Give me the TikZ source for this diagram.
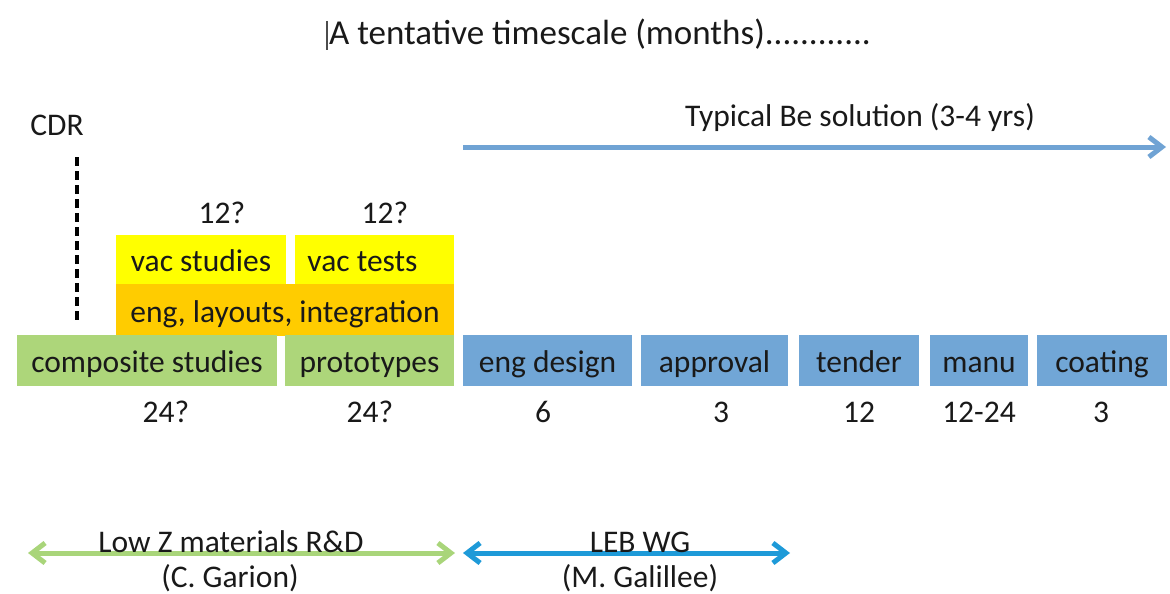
\documentclass[tikz,border=0pt]{standalone}
\usepackage{fontspec}
\setmainfont{Carlito}
\usetikzlibrary{arrows.meta}
\definecolor{boxgreen}{HTML}{ADD67A}
\definecolor{boxyellow}{HTML}{FFFF00}
\definecolor{boxorange}{HTML}{FFCC00}
\definecolor{boxblue}{HTML}{71A6D6}
\definecolor{arrblue}{HTML}{70A3D4}
\definecolor{arrgreen}{HTML}{A9D57A}
\definecolor{arrcyan}{HTML}{1E9AD8}
\tikzset{
  txt/.style={font=\fontsize{31.5}{37}\selectfont, inner sep=0pt, anchor=base, text=black!90},
  ttl/.style={font=\fontsize{35}{40}\selectfont, inner sep=0pt, anchor=base, text=black!90},
  bar/.style={font=\fontsize{31.5}{37}\selectfont, inner sep=0pt, text=black!90,
    text height=24pt, text depth=0pt, anchor=center},
  gbox/.style={bar, fill=boxgreen},
  ybox/.style={bar, fill=boxyellow},
  obox/.style={bar, fill=boxorange},
  bbox/.style={bar, fill=boxblue},
  mybarb/.tip={Straight Barb[length=13pt,width=20pt]},
  arr/.style={line width=5pt},
}
\begin{document}
\begin{tikzpicture}[x=1pt,y=-1pt]
\useasboundingbox (0,0) rectangle (1170,594);
% title and cursor
\node[ttl] (title) at (600,45) {A tentative timescale (months)............};
\coordinate (cur1) at (327,21);
\coordinate (cur2) at (327,50);
\draw[line width=1.2pt, black!70] (cur1) -- (cur2);
% CDR
\node[txt] (cdr) at (57,135) {CDR};
\coordinate (d1) at (77,157);
\coordinate (d2) at (77,324);
\draw[line width=4pt, dash pattern=on 9pt off 5pt] (d1) -- (d2);
% Typical Be solution
\node[txt] (be) at (860,126) {Typical Be solution (3-4 yrs)};
\coordinate (ta) at (463,147);
\coordinate (tb) at (1166,147);
\draw[arr, arrblue, -{mybarb}] (ta) -- (tb);
% 12? labels
\node[txt] (q1) at (222,223) {12?};
\node[txt] (q2) at (385,223) {12?};
% yellow / orange
\node[ybox, minimum width=170pt, minimum height=49pt] (vs) at (201,259.5) {vac studies};
\node[ybox, minimum width=159pt, minimum height=49pt] (vt) at (374.5,259.5) {vac tests\hspace*{24pt}};
\node[obox, minimum width=338pt, minimum height=52pt] (eng) at (285,310) {eng, layouts, integration};
% green
\node[gbox, minimum width=260pt, minimum height=51pt] (cs) at (147,360.5) {composite studies};
\node[gbox, minimum width=169pt, minimum height=51pt] (pt) at (369.5,360.5) {prototypes};
% blue
\node[bbox, minimum width=169pt, minimum height=51pt] (ed) at (547.5,360.5) {eng design};
\node[bbox, minimum width=147pt, minimum height=51pt] (ap) at (714.5,360.5) {approval};
\node[bbox, minimum width=120pt, minimum height=51pt] (te) at (859,360.5) {tender};
\node[bbox, minimum width=98pt, minimum height=51pt] (ma) at (979,360.5) {manu};
\node[bbox, minimum width=130pt, minimum height=51pt] (co) at (1102,360.5) {coating};
% durations
\node[txt] (n1) at (166,422) {24?};
\node[txt] (n2) at (370,422) {24?};
\node[txt] (n3) at (543,422) {6};
\node[txt] (n4) at (721,422) {3};
\node[txt] (n5) at (859,422) {12};
\node[txt] (n6) at (979,422) {12-24};
\node[txt] (n7) at (1101,422) {3};
% bottom arrows
\coordinate (ga) at (28,553);
\coordinate (gb) at (455,553);
\coordinate (ba) at (463,553);
\coordinate (bb) at (790,553);
\draw[arr, arrgreen, {mybarb}-{mybarb}] (ga) -- (gb);
\draw[arr, arrcyan, {mybarb}-{mybarb}] (ba) -- (bb);
\node[txt] (lz) at (231,552) {Low Z materials R\&D};
\node[txt] (cg) at (230,587) {(C. Garion)};
\node[txt] (lw) at (640,552) {LEB WG};
\node[txt] (mg) at (640,587) {(M. Galillee)};
\end{tikzpicture}
\end{document}
